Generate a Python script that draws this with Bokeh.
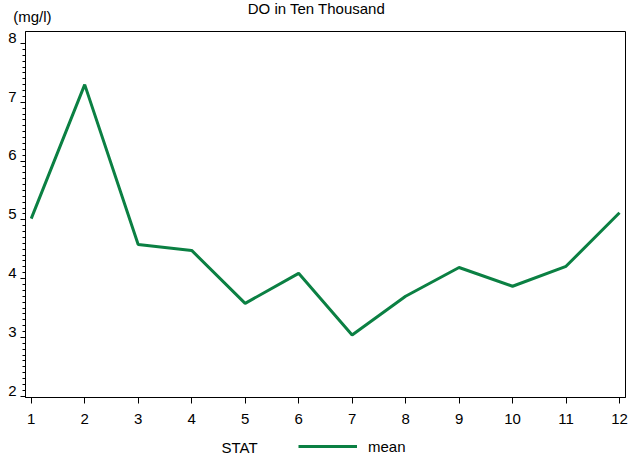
from bokeh.plotting import figure
from bokeh.layouts import column
from bokeh.models import Range1d, LinearAxis, FixedTicker, Legend, LegendItem, Label
from bokeh.embed import file_html
from bokeh.resources import INLINE

# ---- data ----
months = [1, 2, 3, 4, 5, 6, 7, 8, 9, 10, 11, 12]
do_mean = [5.02, 7.30, 4.58, 4.48, 3.58, 4.09, 3.04, 3.70, 4.19, 3.87, 4.21, 5.12]
y_ticks = [2, 3, 4, 5, 6, 7, 8]
x_ticks = months
title_text = "DO in Ten Thousand"
unit_text = "(mg/l)"
legend_title = "STAT"
series_name = "mean"

FONT = "Liberation Sans"
GREEN = "#0B8043"
FS = "15px"
W = 629


def bare(height):
    f = figure(width=W, height=height, output_backend="svg", toolbar_location=None,
               x_axis_location=None, y_axis_location=None, min_border=0,
               min_border_left=0, min_border_right=0, min_border_top=0, min_border_bottom=0,
               outline_line_color=None, background_fill_color="white",
               border_fill_color="white", x_range=Range1d(0, 1), y_range=Range1d(0, 1),
               frame_align=False)
    f.grid.grid_line_color = None
    return f


# ---- top strip: title and unit ----
top = bare(26)
top.add_layout(Label(x=316, y=18.5, x_units="screen", y_units="screen",
                     text=title_text, text_font=FONT, text_font_size=FS,
                     text_color="black", text_align="center", text_baseline="middle"))
top.add_layout(Label(x=12.7, y=9.7, x_units="screen", y_units="screen",
                     text=unit_text, text_font=FONT, text_font_size=FS,
                     text_color="black", text_align="left", text_baseline="middle"))

# ---- main plot ----
y_minor = [a + k / 10 for a, b in zip(y_ticks[:-1], y_ticks[1:]) for k in range(1, 10)]

p = figure(width=W, height=404, output_backend="svg", toolbar_location=None,
           x_range=Range1d(0.893, 12.112), y_range=Range1d(1.978, 8.204),
           min_border_left=25, min_border_right=4, min_border_top=5, min_border_bottom=33,
           background_fill_color="white", border_fill_color="white", frame_align=False)

p.xgrid.grid_line_color = None
p.ygrid.grid_line_color = None
p.outline_line_color = "black"
p.outline_line_width = 1
p.outline_line_alpha = 1

xa = p.xaxis[0]
xa.ticker = FixedTicker(ticks=x_ticks)
xa.major_tick_out = 6
xa.major_tick_in = 0
xa.minor_tick_line_color = None
xa.axis_line_color = "black"
xa.major_tick_line_color = "black"
xa.major_label_text_font = FONT
xa.major_label_text_font_size = FS
xa.major_label_text_color = "black"
xa.major_label_standoff = 10

# y axis: ticks only
ya = p.yaxis[0]
ya.ticker = FixedTicker(ticks=y_ticks, minor_ticks=y_minor)
ya.major_tick_out = 5
ya.major_tick_in = 0
ya.minor_tick_out = 3
ya.minor_tick_in = 0
ya.axis_line_color = "black"
ya.major_tick_line_color = "black"
ya.minor_tick_line_color = "black"
ya.major_label_overrides = {t: "" for t in y_ticks}
ya.major_label_standoff = 0

# y tick labels (drawn slightly above their ticks, as in the original)
shift = 0.095
p.extra_y_ranges = {"lbl": Range1d(1.978 - shift, 8.204 - shift)}
la = LinearAxis(y_range_name="lbl", ticker=FixedTicker(ticks=y_ticks))
la.axis_line_color = None
la.major_tick_line_color = None
la.minor_tick_line_color = None
la.major_tick_out = 0
la.major_tick_in = 0
la.minor_tick_out = 0
la.major_label_text_font = FONT
la.major_label_text_font_size = FS
la.major_label_text_color = "black"
la.major_label_standoff = 4
p.add_layout(la, "left")

p.line(months, do_mean, line_color=GREEN, line_width=3)

# ---- bottom strip: legend ----
bot = bare(28)
key = bot.line(months, do_mean, line_color=GREEN, line_width=3, visible=False)
bot.add_layout(Label(x=221, y=11.5, x_units="screen", y_units="screen",
                     text=legend_title, text_font=FONT, text_font_size=FS,
                     text_color="black", text_align="left", text_baseline="middle"))
legend = Legend(items=[LegendItem(label=series_name, renderers=[key])],
                location=(298, 3.5), orientation="horizontal",
                glyph_width=59, glyph_height=16, label_height=16, label_standoff=11,
                padding=0, margin=0, spacing=0,
                border_line_color=None, background_fill_alpha=0,
                label_text_font=FONT, label_text_font_size=FS, label_text_color="black")
bot.add_layout(legend)

page = column(top, p, bot, spacing=0)
open("out.html", "w").write(file_html(page, INLINE))
